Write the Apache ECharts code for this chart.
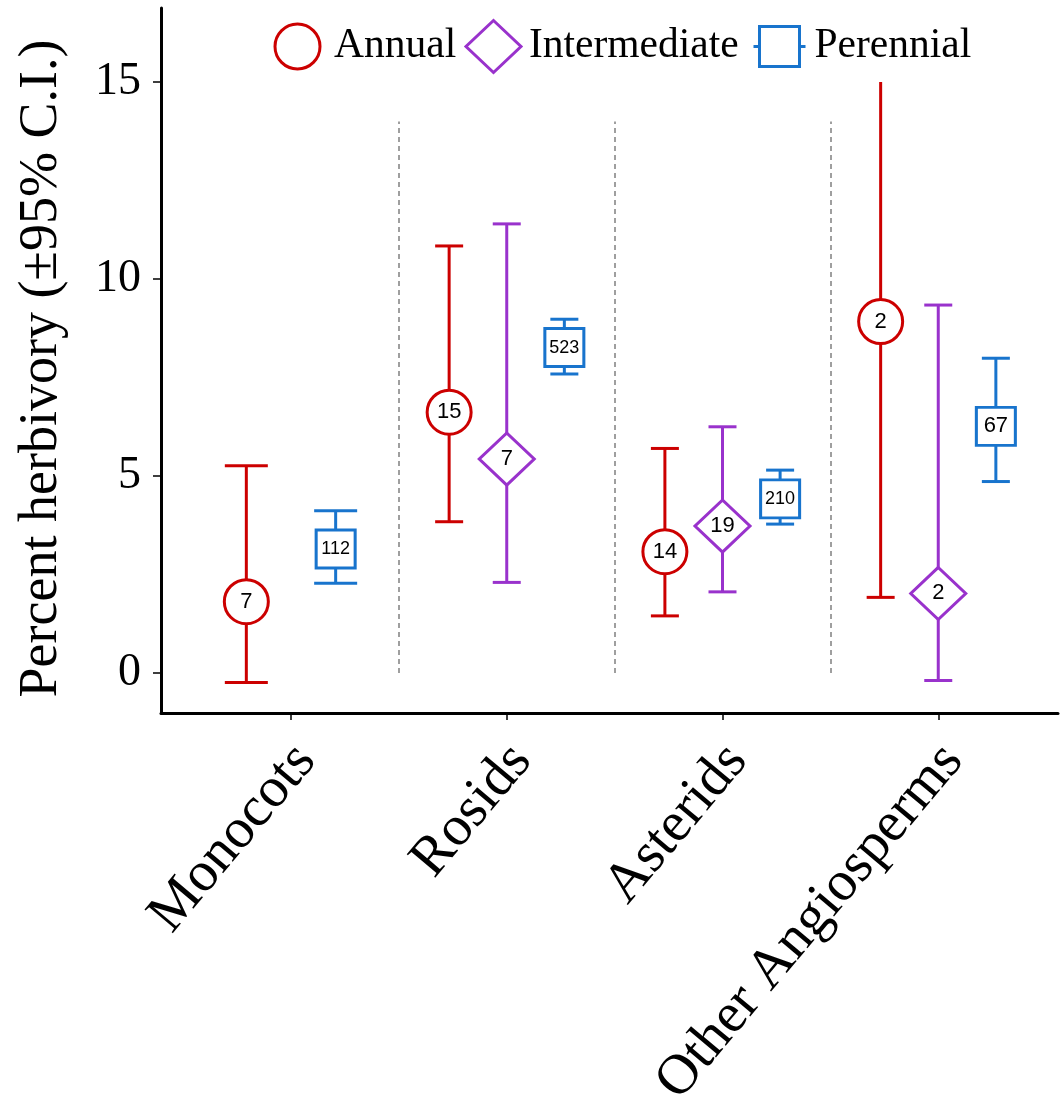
<!DOCTYPE html>
<html>
<head>
<meta charset="utf-8">
<script src="https://cdn.jsdelivr.net/npm/echarts@6/dist/echarts.min.js"></script>
<style>
html,body{margin:0;padding:0;background:#fff;}
#chart{width:1062px;height:1107px;}
</style>
</head>
<body>
<div id="chart"></div>
<script>
// ---------------- data ----------------
const categories = ['Monocots', 'Rosids', 'Asterids', 'Other Angiosperms'];
const yTickValues = [0, 5, 10, 15];

const annualMean = [1.81, 6.62, 3.08, 8.92];
const annualLow  = [-0.24, 3.84, 1.45, 1.92];
const annualHigh = [5.26, 10.84, 5.70, 15.0];
const annualN    = [7, 15, 14, 2];
const annualHighClipped = [false, false, false, true]; // upper CI runs past the plotted range

const intermediateMean = [null, 5.43, 3.73, 2.02];
const intermediateLow  = [null, 2.30, 2.06, -0.19];
const intermediateHigh = [null, 11.40, 6.25, 9.34];
const intermediateN    = [null, 7, 19, 2];

const perennialMean = [3.15, 8.26, 4.42, 6.26];
const perennialLow  = [2.28, 7.59, 3.78, 4.86];
const perennialHigh = [4.12, 8.98, 5.15, 7.99];
const perennialN    = [112, 523, 210, 67];

const separatorTop = 14;

// ---------------- layout helpers ----------------
const RED = '#CC0000', PURPLE = '#9932CC', BLUE = '#1874CD';
const groups = [
  {name: 'Annual', mean: annualMean, low: annualLow, high: annualHigh, n: annualN, clip: annualHighClipped,
   color: RED, symbol: 'circle', size: 44},
  {name: 'Intermediate', mean: intermediateMean, low: intermediateLow, high: intermediateHigh, n: intermediateN, clip: null,
   color: PURPLE, symbol: 'diamond', size: [55, 52]},
  {name: 'Perennial', mean: perennialMean, low: perennialLow, high: perennialHigh, n: perennialN, clip: null,
   color: BLUE, symbol: 'rect', size: [39, 38]}
];

function dodge(catIdx, gIdx) {
  const present = groups.map((g, i) => g.mean[catIdx] != null ? i : -1).filter(i => i >= 0);
  const k = present.length;
  const pos = present.indexOf(gIdx);
  const offsets = k === 3 ? [-0.267, 0, 0.267] : (k === 2 ? [-0.207, 0.207] : [0]);
  const capW = k === 3 ? 28 : 43;
  return {x: catIdx + 1 + offsets[pos], capW: capW};
}

const series = [];
// error bars
groups.forEach((g, gi) => {
  const data = [];
  categories.forEach((c, ci) => {
    if (g.mean[ci] == null) return;
    const d = dodge(ci, gi);
    data.push([d.x, g.low[ci], g.high[ci], d.capW, (g.clip && g.clip[ci]) ? 1 : 0]);
  });
  series.push({
    type: 'custom',
    name: g.name + ' CI',
    z: 2,
    silent: true,
    encode: {x: 0, y: [1, 2]},
    data: data,
    renderItem: function (params, api) {
      const x = api.value(0), lo = api.value(1), hi = api.value(2), cw = api.value(3), clipped = api.value(4);
      const a = api.coord([x, lo]), b = api.coord([x, hi]);
      const st = {stroke: g.color, lineWidth: 3, fill: null};
      const ch = [
        {type: 'line', shape: {x1: a[0], y1: a[1], x2: b[0], y2: b[1]}, style: st},
        {type: 'line', shape: {x1: a[0] - cw / 2, y1: a[1], x2: a[0] + cw / 2, y2: a[1]}, style: st}
      ];
      if (!clipped) ch.push({type: 'line', shape: {x1: b[0] - cw / 2, y1: b[1], x2: b[0] + cw / 2, y2: b[1]}, style: st});
      return {type: 'group', children: ch};
    }
  });
});

// separators
series.push({
  type: 'line',
  name: 'sep',
  data: [],
  silent: true,
  markLine: {
    silent: true,
    symbol: 'none',
    label: {show: false},
    lineStyle: {color: '#808080', type: [5, 4], width: 1.5},
    data: categories.slice(0, -1).map((c, i) => [{coord: [i + 1.5, 0]}, {coord: [i + 1.5, separatorTop]}])
  }
});

// markers
groups.forEach((g, gi) => {
  const data = [];
  categories.forEach((c, ci) => {
    if (g.mean[ci] == null) return;
    const d = dodge(ci, gi);
    const nStr = String(g.n[ci]);
    data.push({value: [d.x, g.mean[ci], g.n[ci]], label: {fontSize: nStr.length >= 3 ? 18 : 22}});
  });
  series.push({
    type: 'scatter',
    name: g.name,
    z: 5,
    symbol: g.symbol,
    symbolSize: g.size,
    itemStyle: {color: '#ffffff', borderColor: g.color, borderWidth: 3, opacity: 1},
    label: {
      show: true, position: 'inside', color: '#000',
      fontFamily: 'Liberation Sans', formatter: p => String(p.value[2])
    },
    emphasis: {disabled: true},
    data: data
  });
});

const legendFont = {fontSize: 41.5, fontFamily: 'Liberation Serif', color: '#000'};
const option = {
  backgroundColor: '#ffffff',
  animation: false,
  grid: {left: 161, right: 4, top: 8, bottom: 394, containLabel: false, outerBoundsMode: 'none'},
  legend: [
    {data: [{name: 'Annual', icon: 'circle'}], left: 273.5, top: 22.5, padding: 0, itemWidth: 45, itemHeight: 45,
     itemStyle: {borderWidth: 3}, textStyle: Object.assign({padding: [0, 0, 0, 9]}, legendFont), selectedMode: false},
    {data: [{name: 'Intermediate', icon: 'diamond'}], left: 464.5, top: 19, padding: 0, itemWidth: 55, itemHeight: 52,
     itemStyle: {borderWidth: 3}, textStyle: Object.assign({padding: [0, 0, 0, 3]}, legendFont), selectedMode: false},
    {data: [{name: 'Perennial', icon: 'path://M0,20H6M6,0H46V40H6ZM46,20H52'}], left: 752, top: 25, padding: 0,
     itemWidth: 52, itemHeight: 40, itemStyle: {borderWidth: 3},
     textStyle: Object.assign({padding: [0, 0, 0, 4]}, legendFont), selectedMode: false}
  ],
  xAxis: {
    type: 'value', min: 0.3975, max: 4.555,
    axisLine: {show: true, onZero: false, lineStyle: {color: '#000', width: 3}},
    axisTick: {show: true, customValues: [1, 2, 3, 4], length: 7, lineStyle: {color: '#000', width: 1.5}},
    axisLabel: {
      customValues: [1, 2, 3, 4], formatter: v => categories[Math.round(v) - 1],
      rotate: 50, align: 'right', verticalAlign: 'top', padding: [0, 11, 0, 0],
      fontSize: 56.5, fontFamily: 'Liberation Serif', color: '#000', margin: 12
    },
    splitLine: {show: false}
  },
  yAxis: {
    type: 'value', min: -1.015, max: 16.88,
    axisLine: {show: true, onZero: false, lineStyle: {color: '#000', width: 3}},
    axisTick: {show: true, customValues: yTickValues, length: 8, lineStyle: {color: '#000', width: 1.5}},
    axisLabel: {customValues: yTickValues, fontSize: 46, fontFamily: 'Liberation Serif', color: '#000', margin: 20},
    splitLine: {show: false},
    name: 'Percent herbivory (±95% C.I.)', nameLocation: 'middle', nameGap: 92,
    nameTextStyle: {fontSize: 54, fontFamily: 'Liberation Serif', color: '#000', padding: [0, 16, 0, 0]}
  },
  series: series
};

const chart = echarts.init(document.getElementById('chart'), null, {renderer: 'canvas'});
chart.setOption(option);
</script>
</body>
</html>
